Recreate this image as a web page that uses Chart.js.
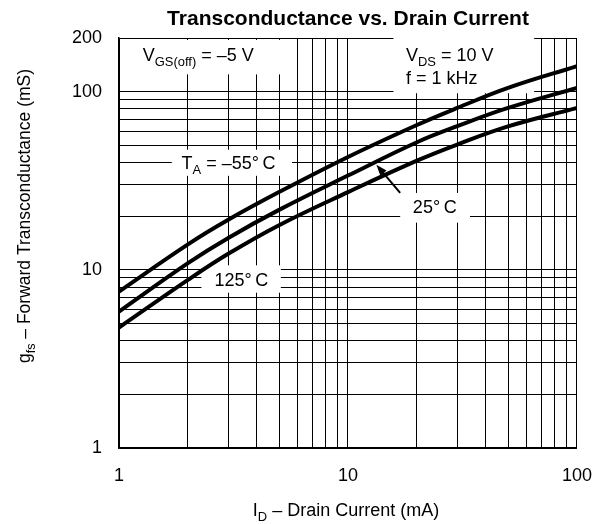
<!DOCTYPE html>
<html>
<head>
<meta charset="utf-8">
<script src="https://cdn.jsdelivr.net/npm/chart.js@4.4.1/dist/chart.umd.min.js"></script>
<style>
  html, body { margin: 0; padding: 0; background: #fff; }
  #wrap { width: 609px; height: 524px; }
</style>
</head>
<body>
<div id="wrap"><canvas id="gfsChart"></canvas></div>
<script>
// I_D (mA) and g_fs (mS)
const drainCurrent = [1, 2, 3, 5, 10, 20, 30, 50, 100];
const gfsMinus55 = [7.55, 13.9, 19.1, 27.3, 43.0, 65.0, 81.0, 105, 139];
const gfs25 = [5.83, 10.9, 15.1, 21.7, 33.8, 52.0, 64.0, 81.0, 105];
const gfs125 = [4.74, 8.78, 12.3, 17.8, 27.3, 41.0, 50.5, 63.8, 81.0];

const xTicks = [1, 2, 3, 4, 5, 6, 7, 8, 9, 10, 20, 30, 40, 50, 60, 70, 80, 90, 100];
const yTicks = [1, 2, 3, 4, 5, 6, 7, 8, 9, 10, 20, 30, 40, 50, 60, 70, 80, 90, 100, 200];
const xLabels = [1, 10, 100];
const yLabels = [1, 10, 100, 200];

const FONT = '"Liberation Sans", Arial, Helvetica, sans-serif';

// white label boxes, in data coordinates
const noteBoxes = [
  { x1: 1.06, x2: 5.5, y1: 125, y2: 195 },
  { x1: 15.8, x2: 65, y1: 98, y2: 200 },
  { x1: 1.70, x2: 5.69, y1: 33.7, y2: 47.2 },
  { x1: 16.9, x2: 34.1, y1: 18.4, y2: 27.0 },
  { x1: 2.29, x2: 5.09, y1: 7.44, y2: 10.6 }
];

// text runs: [text, isSubscript]
const notes = [
  { x: 1.27, y: 161, parts: [['V'], ['GS(off)', 1], [' = \u20135 V']] },
  { x: 17.9, y: 161, parts: [['V'], ['DS', 1], [' = 10 V']] },
  { x: 17.9, y: 119.6, parts: [['f = 1 kHz']] },
  { x: 1.876, y: 39.9, parts: [['T'], ['A', 1], [' = \u201355\u00b0\u2009C']] },
  { x: 19.2, y: 22.6, parts: [['25\u00b0\u2009C']] },
  { x: 2.61, y: 8.8, parts: [['125\u00b0\u2009C']] }
];

const arrow = { fromX: 16.9, fromY: 27.0, toX: 13.3, toY: 38.9 };

function drawRich(ctx, parts, x, y, size, align) {
  const sub = size * 0.72;
  let total = 0;
  parts.forEach(p => {
    ctx.font = (p[1] ? sub : size) + 'px ' + FONT;
    total += ctx.measureText(p[0]).width;
  });
  let cx = align === 'center' ? x - total / 2 : x;
  ctx.textAlign = 'left';
  ctx.textBaseline = 'alphabetic';
  parts.forEach(p => {
    ctx.font = (p[1] ? sub : size) + 'px ' + FONT;
    ctx.fillText(p[0], cx, p[1] ? y + size * 0.28 : y);
    cx += ctx.measureText(p[0]).width;
  });
}

const notesPlugin = {
  id: 'notes',
  beforeDatasetsDraw(chart) {
    const { ctx, scales: { x, y } } = chart;
    ctx.save();
    ctx.fillStyle = '#fff';
    noteBoxes.forEach(b => {
      const l = x.getPixelForValue(b.x1), r = x.getPixelForValue(b.x2);
      const t = y.getPixelForValue(b.y2), btm = y.getPixelForValue(b.y1);
      ctx.fillRect(l, t, r - l, btm - t);
    });
    ctx.fillStyle = '#000';
    notes.forEach(n => {
      drawRich(ctx, n.parts, x.getPixelForValue(n.x), y.getPixelForValue(n.y) + 6.5, 18, 'left');
    });
    ctx.restore();
  },
  afterDatasetsDraw(chart) {
    const { ctx, scales: { x, y } } = chart;
    const x0 = x.getPixelForValue(arrow.fromX), y0 = y.getPixelForValue(arrow.fromY);
    const x1 = x.getPixelForValue(arrow.toX), y1 = y.getPixelForValue(arrow.toY);
    const ang = Math.atan2(y1 - y0, x1 - x0);
    ctx.save();
    ctx.strokeStyle = '#000';
    ctx.fillStyle = '#000';
    ctx.lineWidth = 2;
    ctx.beginPath();
    ctx.moveTo(x0, y0);
    ctx.lineTo(x1 - 8 * Math.cos(ang), y1 - 8 * Math.sin(ang));
    ctx.stroke();
    ctx.beginPath();
    ctx.moveTo(x1, y1);
    ctx.lineTo(x1 - 11 * Math.cos(ang) + 4 * Math.sin(ang), y1 - 11 * Math.sin(ang) - 4 * Math.cos(ang));
    ctx.lineTo(x1 - 11 * Math.cos(ang) - 4 * Math.sin(ang), y1 - 11 * Math.sin(ang) + 4 * Math.cos(ang));
    ctx.closePath();
    ctx.fill();
    ctx.restore();
  },
  afterDraw(chart) {
    const { ctx, chartArea: a } = chart;
    const mid = (a.left + a.right) / 2;
    ctx.save();
    ctx.fillStyle = '#000';
    ctx.font = 'bold 21px ' + FONT;
    ctx.textAlign = 'center';
    ctx.textBaseline = 'alphabetic';
    ctx.fillText('Transconductance vs. Drain Current', mid, 25);
    drawRich(ctx, [['I'], ['D', 1], [' \u2013 Drain Current (mA)']], mid - 2, a.bottom + 68, 18, 'center');
    ctx.translate(30, 216);
    ctx.rotate(-Math.PI / 2);
    drawRich(ctx, [['g'], ['fs', 1], [' \u2013 Forward Transconductance (mS)']], 0, 0, 17.5, 'center');
    ctx.restore();
  }
};

const curve = (label, values) => ({
  label,
  data: drainCurrent.map((v, i) => ({ x: v, y: values[i] })),
  borderColor: '#000',
  borderWidth: 4,
  pointRadius: 0,
  fill: false,
  tension: 0.4
});

new Chart(document.getElementById('gfsChart').getContext('2d'), {
  type: 'line',
  data: {
    datasets: [
      curve('-55°C', gfsMinus55),
      curve('25°C', gfs25),
      curve('125°C', gfs125)
    ]
  },
  options: {
    responsive: true,
    maintainAspectRatio: false,
    animation: false,
    devicePixelRatio: 1,
    layout: { padding: { top: 38, right: 29, left: 0, bottom: 0 } },
    plugins: { legend: { display: false }, tooltip: { enabled: false } },
    scales: {
      x: {
        type: 'logarithmic',
        min: 1,
        max: 100,
        afterBuildTicks: s => { s.ticks = xTicks.map(v => ({ value: v })); },
        afterFit: s => { s.height = 76; },
        grid: { color: '#000', lineWidth: 1, drawTicks: false },
        border: { color: '#000', width: 1.5 },
        ticks: {
          autoSkip: false,
          maxRotation: 0,
          padding: 17,
          color: '#000',
          font: { family: FONT, size: 18 },
          callback: v => xLabels.includes(v) ? String(v) : ''
        }
      },
      y: {
        type: 'logarithmic',
        min: 1,
        max: 200,
        afterBuildTicks: s => { s.ticks = yTicks.map(v => ({ value: v })); },
        afterFit: s => { s.width = 119; },
        grid: { color: '#000', lineWidth: 1, drawTicks: false },
        border: { color: '#000', width: 1.5 },
        ticks: {
          autoSkip: false,
          padding: 17,
          color: '#000',
          font: { family: FONT, size: 18 },
          callback: v => yLabels.includes(v) ? String(v) : ''
        }
      }
    }
  },
  plugins: [notesPlugin]
});
</script>
</body>
</html>
